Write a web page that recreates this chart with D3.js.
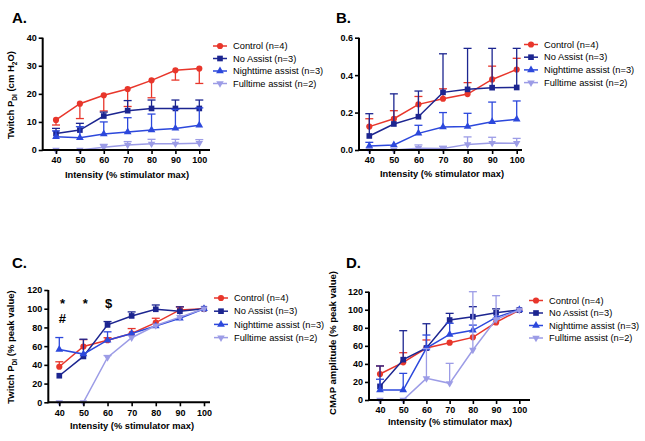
<!DOCTYPE html>
<html>
<head>
<meta charset="utf-8">
<script src="https://cdn.jsdelivr.net/npm/d3@7/dist/d3.min.js"></script>
<style>
  body { margin: 0; background: #fff; }
  svg { font-family: "Liberation Sans", Arial, sans-serif; }
</style>
</head>
<body>
<svg width="645" height="441"></svg>
<script>
const intensity = [40, 50, 60, 70, 80, 90, 100];
const seriesNames = ["Control (n=4)", "No Assist (n=3)", "Nighttime assist (n=3)", "Fulltime assist (n=2)"];
const colors = ["#e8362b", "#1c2590", "#2c48dc", "#9c9ce6"];

// Panel A: twitch Pdi (cm H2O); error bar end values (null = none)
const aControl = [10.7, 16.5, 19.5, 21.7, 24.8, 28.4, 29.0];
const aControlErr = [8.9, 11.2, 13.9, 15.5, 18.6, 24.9, 23.7];
const aNoAssist = [5.9, 7.1, 12.1, 14.0, 14.8, 14.8, 14.8];
const aNoAssistErr = [7.7, 9.5, 13.5, 17.6, 17.8, 17.8, 17.8];
const aNight = [4.7, 4.4, 5.7, 6.4, 7.1, 7.7, 8.8];
const aNightErr = [6.8, 8.3, 10.0, 11.5, 12.8, 14.5, 15.0];
const aFull = [0, 0, 1.0, 1.8, 2.2, 2.2, 2.4];
const aFullErr = [null, null, 2.0, 3.0, 3.8, 3.8, 3.7];

// Panel B
const bControl = [0.125, 0.167, 0.244, 0.274, 0.299, 0.377, 0.43];
const bControlErr = [0.167, 0.21, 0.286, 0.327, 0.36, 0.448, 0.49];
const bNoAssist = [0.075, 0.139, 0.178, 0.308, 0.324, 0.333, 0.334];
const bNoAssistErr = [0.194, 0.30, 0.315, 0.514, 0.543, 0.543, 0.543];
const bNight = [0.021, 0.027, 0.089, 0.123, 0.125, 0.151, 0.164];
const bNightErr = [0.041, null, 0.132, 0.2, 0.196, 0.256, 0.262];
const bFull = [0, 0, 0.01, 0.008, 0.03, 0.037, 0.036];
const bFullErr = [null, null, 0.027, 0.02, 0.07, 0.068, 0.062];

// Panel C
const cControl = [38, 59.6, 66.4, 73.5, 85.2, 98.7, 100];
const cControlErr = [43.3, 67, 69, 78.8, 89.8, 102, null];
const cNoAssist = [28.4, 49, 82.7, 92.3, 99.4, 97.3, 100];
const cNoAssistErr = [null, 67.4, 86.3, 96.6, 104, 102, null];
const cNight = [56.4, 51.5, 66.4, 73.5, 81.6, 89.8, 100];
const cNightErr = [69.2, null, 75.3, null, null, null, null];
const cFull = [0, 0, 48, 69, 82, 91, 100];
const cFullErr = [null, null, 50, null, null, null, null];
const cMarks = [{x: 41.3, y: 106, t: "*"}, {x: 50.8, y: 106, t: "*"}, {x: 60.5, y: 106, t: "$"}, {x: 41.3, y: 90, t: "#"}];

// Panel D
const dControl = [28.8, 41.7, 57.6, 63.5, 69.4, 86, 99.7];
const dControlErr = [37.7, 52.4, 66.5, null, null, null, null];
const dNoAssist = [15.1, 44.7, 57.6, 88.6, 92.3, 96.7, 99.7];
const dNoAssistErr = [37.7, 76.8, 84.5, 96, 103.4, 101, null];
const dNight = [11, 11, 57.6, 72.7, 77.2, 91.6, 100];
const dNightErr = [23, 29.5, 72, 85, 83, null, null];
const dFull = [0, 0, 24, 18.5, 55.4, 89.3, 99.7];
const dFullErr = [null, null, 57, 40.6, 120, 115.6, null];

const svg = d3.select("svg");

const panels = [
  {label: "A.", lx: 12, ly: 23, x40: 56, x100: 199.3, axL: 42.7, axR: 210, y0: 150, yTop: 37.7, yMax: 40,
   yTicks: [0, 10, 20, 30, 40], fmt: d3.format("d"),
   series: [[aControl, aControlErr], [aNoAssist, aNoAssistErr], [aNight, aNightErr], [aFull, aFullErr]],
   legX: 213, legY: 46, legDy: 12.5, xtX: 127, xtY: 178, ytitle: "A", ytX: 14, ytY: 95},
  {label: "B.", lx: 336, ly: 23, x40: 369.3, x100: 516.7, axL: 359, axR: 522, y0: 150, yTop: 37.7, yMax: 0.6,
   yTicks: [0, 0.2, 0.4, 0.6], fmt: d3.format(".1f"),
   series: [[bControl, bControlErr], [bNoAssist, bNoAssistErr], [bNight, bNightErr], [bFull, bFullErr]],
   legX: 524, legY: 44.5, legDy: 12.7, xtX: 442, xtY: 177, ytitle: null},
  {label: "C.", lx: 12, ly: 268, x40: 59.3, x100: 204, axL: 48.3, axR: 210, y0: 402.3, yTop: 290, yMax: 120,
   yTicks: [0, 20, 40, 60, 80, 100, 120], fmt: d3.format("d"),
   series: [[cControl, cControlErr], [cNoAssist, cNoAssistErr], [cNight, cNightErr], [cFull, cFullErr]],
   legX: 214, legY: 298, legDy: 13.2, xtX: 132, xtY: 429, ytitle: "C", ytX: 14, ytY: 347, marks: cMarks},
  {label: "D.", lx: 346, ly: 268, x40: 380, x100: 519.3, axL: 369, axR: 530, y0: 400, yTop: 291.7, yMax: 120,
   yTicks: [0, 20, 40, 60, 80, 100, 120], fmt: d3.format("d"),
   series: [[dControl, dControlErr], [dNoAssist, dNoAssistErr], [dNight, dNightErr], [dFull, dFullErr]],
   legX: 529, legY: 300.5, legDy: 12.5, xtX: 450, xtY: 425, ytitle: "D", ytX: 336, ytY: 343}
];

const symbols = [d3.symbolCircle, d3.symbolSquare, d3.symbolTriangle, d3.symbolTriangle];
const symSize = [30, 32, 26, 24];

function marker(sel, i) {
  sel.append("path")
    .attr("d", d3.symbol().type(symbols[i]).size(symSize[i]))
    .attr("fill", colors[i])
    .attr("transform", i === 3 ? "rotate(180)" : null);
}

panels.forEach(p => {
  const x = d3.scaleLinear().domain([40, 100]).range([p.x40, p.x100]);
  const y = d3.scaleLinear().domain([0, p.yMax]).range([p.y0, p.yTop]);
  const g = svg.append("g");

  // panel letter
  g.append("text").attr("x", p.lx).attr("y", p.ly)
    .attr("font-size", 15).attr("font-weight", "bold").text(p.label);

  // series lines, error bars, markers
  p.series.forEach((s, i) => {
    const vals = s[0], errs = s[1];
    const pts = intensity.map((v, k) => ({x: v, y: vals[k], e: errs[k]}));
    g.append("path")
      .attr("d", d3.line().x(d => x(d.x)).y(d => y(d.y))(pts))
      .attr("fill", "none").attr("stroke", colors[i]).attr("stroke-width", 1.5);
    const eb = g.append("g").attr("stroke", colors[i]).attr("stroke-width", 1.3);
    pts.filter(d => d.e != null).forEach(d => {
      eb.append("line").attr("x1", x(d.x)).attr("x2", x(d.x))
        .attr("y1", y(d.y)).attr("y2", y(d.e));
      eb.append("line").attr("x1", x(d.x) - 4).attr("x2", x(d.x) + 4)
        .attr("y1", y(d.e)).attr("y2", y(d.e));
    });
    pts.forEach(d => {
      g.append("g").attr("transform", `translate(${x(d.x)},${y(d.y)})`).call(marker, i);
    });
  });

  // axes
  const yAxis = d3.axisLeft(y).tickValues(p.yTicks).tickFormat(p.fmt).tickSize(4).tickSizeOuter(0);
  const ya = g.append("g").attr("transform", `translate(${p.axL},0)`).call(yAxis);
  const xAxis = d3.axisBottom(x).tickValues(intensity).tickSize(4).tickSizeOuter(0);
  const xa = g.append("g").attr("transform", `translate(0,${p.y0})`).call(xAxis);
  [ya, xa].forEach(a => {
    a.select(".domain").remove();
    a.selectAll(".tick line").attr("stroke", "#000").attr("stroke-width", 1.6);
    a.selectAll(".tick text").attr("font-size", 9).attr("font-weight", "bold")
      .attr("font-family", "Liberation Sans, Arial, sans-serif").attr("fill", "#000");
  });
  ya.selectAll(".tick text").attr("x", -6);
  xa.selectAll(".tick text").attr("y", 7);
  g.append("line").attr("x1", p.axL).attr("x2", p.axL).attr("y1", p.y0 + 1).attr("y2", p.yTop)
    .attr("stroke", "#000").attr("stroke-width", 2);
  g.append("line").attr("x1", p.axL).attr("x2", p.axR).attr("y1", p.y0).attr("y2", p.y0)
    .attr("stroke", "#000").attr("stroke-width", 2);

  // x title
  g.append("text").attr("x", p.xtX).attr("y", p.xtY).attr("text-anchor", "middle")
    .attr("font-size", 9.3).attr("font-weight", "bold").text("Intensity (% stimulator max)");

  // y title
  if (p.ytitle) {
    const t = g.append("text").attr("transform", `translate(${p.ytX},${p.ytY}) rotate(-90)`)
      .attr("text-anchor", "middle").attr("font-size", 9.5).attr("font-weight", "bold");
    if (p.ytitle === "A") {
      t.append("tspan").text("Twitch P");
      t.append("tspan").attr("font-size", 6.5).attr("dy", 2.5).text("DI");
      t.append("tspan").attr("dy", -2.5).text(" (cm H");
      t.append("tspan").attr("font-size", 6.5).attr("dy", 2.5).text("2");
      t.append("tspan").attr("dy", -2.5).text("O)");
    } else if (p.ytitle === "C") {
      t.append("tspan").text("Twitch P");
      t.append("tspan").attr("font-size", 6.5).attr("dy", 2.5).text("DI");
      t.append("tspan").attr("dy", -2.5).text(" (% peak value)");
    } else {
      t.text("CMAP amplitude (% peak value)");
    }
  }

  // significance marks
  if (p.marks) {
    p.marks.forEach(m => {
      g.append("text").attr("x", x(m.x)).attr("y", y(m.y)).attr("dy", "0.35em")
        .attr("text-anchor", "middle").attr("font-size", 13).attr("font-weight", "bold").text(m.t);
    });
  }

  // legend
  seriesNames.forEach((name, i) => {
    const ly = p.legY + i * p.legDy;
    g.append("line").attr("x1", p.legX).attr("x2", p.legX + 14).attr("y1", ly).attr("y2", ly)
      .attr("stroke", colors[i]).attr("stroke-width", 1.5);
    g.append("g").attr("transform", `translate(${p.legX + 7},${ly})`).call(marker, i);
    g.append("text").attr("x", p.legX + 20).attr("y", ly).attr("dy", "0.35em")
      .attr("font-size", 9.3).text(name);
  });
});
</script>
</body>
</html>
